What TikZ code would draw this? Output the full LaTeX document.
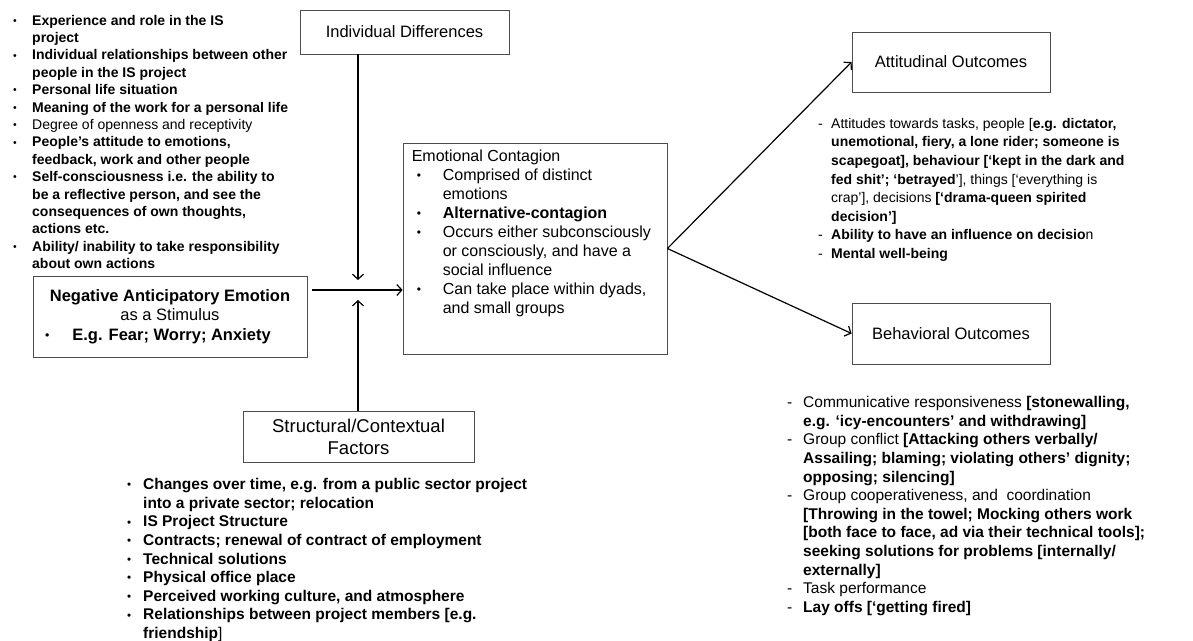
\documentclass[tikz,border=0pt]{standalone}
\usepackage{fontspec}
\setmainfont{Liberation Sans}
\usepackage{array}
\usepackage{graphicx}
\usetikzlibrary{arrows.meta,positioning,calc}

\newcommand{\sbul}{\raisebox{0.8pt}{\scalebox{0.75}{\textbullet}}}

\begin{document}
\begin{tikzpicture}[x=1pt,y=-1pt,
  box/.style={rectangle, draw=black!70, line width=0.8pt, inner sep=0pt, align=center, font=\fontsize{16.5}{19.5}\selectfont},
  arr/.style={-{Straight Barb[length=5pt,width=11pt]}, line width=1.2pt},
  list/.style={anchor=north west, inner sep=0pt},
  smalllist/.style={list, font=\fontsize{14}{17.4}\selectfont},
  biglist/.style={list, font=\fontsize{15.5}{18.6}\selectfont}
]
  \useasboundingbox (0,0) rectangle (1193,640);

  % boxes
  \node[box, minimum width=209, minimum height=44] (indiv) at (404.5,32) {Individual Differences};
  \node[box, minimum width=274, minimum height=81] (neg) at (170,316.5)
    {\textbf{Negative Anticipatory Emotion}\\ as a Stimulus\\
     \makebox[250pt][l]{\sbul\hspace{23pt}\textbf{E.g. Fear; Worry; Anxiety}}};
  \node[box, minimum width=264, minimum height=211] (emo) at (535,248.5) {};
  \node[box, minimum width=231, minimum height=51, font=\fontsize{18.5}{22}\selectfont] (struct) at (358.5,436.5) {Structural/Contextual\\ Factors};
  \node[box, minimum width=198, minimum height=60] (att) at (951,62) {Attitudinal Outcomes};
  \node[box, minimum width=198, minimum height=61] (beh) at (951,333.5) {Behavioral Outcomes};

  % text inside the contagion box
  \node[list, font=\fontsize{16}{19}\selectfont] (emotxt) at ($(emo.north west)+(9,5)$) {%
    \begin{tabular}{@{}p{31pt}@{}l@{}}
    \multicolumn{2}{@{}l@{}}{Emotional Contagion}\\
    \hspace{5pt}\sbul & Comprised of distinct\\
    & emotions\\
    \hspace{5pt}\sbul & \textbf{Alternative-contagion}\\
    \hspace{5pt}\sbul & Occurs either subconsciously\\
    & or consciously, and have a\\
    & social influence\\
    \hspace{5pt}\sbul & Can take place within dyads,\\
    & and small groups
    \end{tabular}};

  % individual differences list
  \node[smalllist] (indivlist) at (13,12.8) {%
    \begin{tabular}{@{}p{19pt}@{}l@{}}
    \sbul & \textbf{Experience and role in the IS}\\
    & \textbf{project}\\
    \sbul & \textbf{Individual relationships between other}\\
    & \textbf{people in the IS project}\\
    \sbul & \textbf{Personal life situation}\\
    \sbul & \textbf{Meaning of the work for a personal life}\\
    \sbul & Degree of openness and receptivity\\
    \sbul & \textbf{People’s attitude to emotions,}\\
    & \textbf{feedback, work and other people}\\
    \sbul & \textbf{Self-consciousness i.e. the ability to}\\
    & \textbf{be a reflective person, and see the}\\
    & \textbf{consequences of own thoughts,}\\
    & \textbf{actions etc.}\\
    \sbul & \textbf{Ability/ inability to take responsibility}\\
    & \textbf{about own actions}
    \end{tabular}};

  % structural list
  \node[biglist] (structlist) at (127,476.5) {%
    \begin{tabular}{@{}p{16pt}@{}l@{}}
    \sbul & \textbf{Changes over time, e.g. from a public sector project}\\
    & \textbf{into a private sector; relocation}\\
    \sbul & \textbf{IS Project Structure}\\
    \sbul & \textbf{Contracts; renewal of contract of employment}\\
    \sbul & \textbf{Technical solutions}\\
    \sbul & \textbf{Physical office place}\\
    \sbul & \textbf{Perceived working culture, and atmosphere}\\
    \sbul & \textbf{Relationships between project members [e.g.}\\
    & \textbf{friendship}]
    \end{tabular}};

  % attitudinal list
  \node[biglist, font=\fontsize{14}{18.6}\selectfont] (attlist) at (818,115) {%
    \begin{tabular}{@{}p{13pt}@{}l@{}}
    - & Attitudes towards tasks, people [\textbf{e.g. dictator,}\\
    & \textbf{unemotional, fiery, a lone rider; someone is}\\
    & \textbf{scapegoat], behaviour [‘kept in the dark and}\\
    & \textbf{fed shit’; ‘betrayed}’], things [‘everything is\\
    & crap’], decisions \textbf{[‘drama-queen spirited}\\
    & \textbf{decision’]}\\
    - & \textbf{Ability to have an influence on decisio}n\\
    - & \textbf{Mental well-being}
    \end{tabular}};

  % behavioral list
  \node[biglist] (behlist) at (787,394.5) {%
    \begin{tabular}{@{}p{16pt}@{}l@{}}
    - & Communicative responsiveness \textbf{[stonewalling,}\\
    & \textbf{e.g. ‘icy-encounters’ and withdrawing]}\\
    - & Group conflict \textbf{[Attacking others verbally/}\\
    & \textbf{Assailing; blaming; violating others’ dignity;}\\
    & \textbf{opposing; silencing]}\\
    - & Group cooperativeness, and\ \ coordination\\
    & \textbf{[Throwing in the towel; Mocking others work}\\
    & \textbf{[both face to face, ad via their technical tools];}\\
    & \textbf{seeking solutions for problems [internally/}\\
    & \textbf{externally]}\\
    - & Task performance\\
    - & \textbf{Lay offs [‘getting fired]}
    \end{tabular}};

  % connectors
  \coordinate (jdown) at (358,280);
  \coordinate (jup) at (358,300);
  \coordinate (negout) at (312,290);
  \draw[arr] (indiv.south -| jdown) -- (jdown);
  \draw[arr] (struct.north -| jup) -- (jup);
  \draw[arr] (negout) -- (negout -| emo.west);
  \draw[arr] (emo.east) -- (att.west);
  \draw[arr] (emo.east) -- (beh.west);
\end{tikzpicture}
\end{document}
